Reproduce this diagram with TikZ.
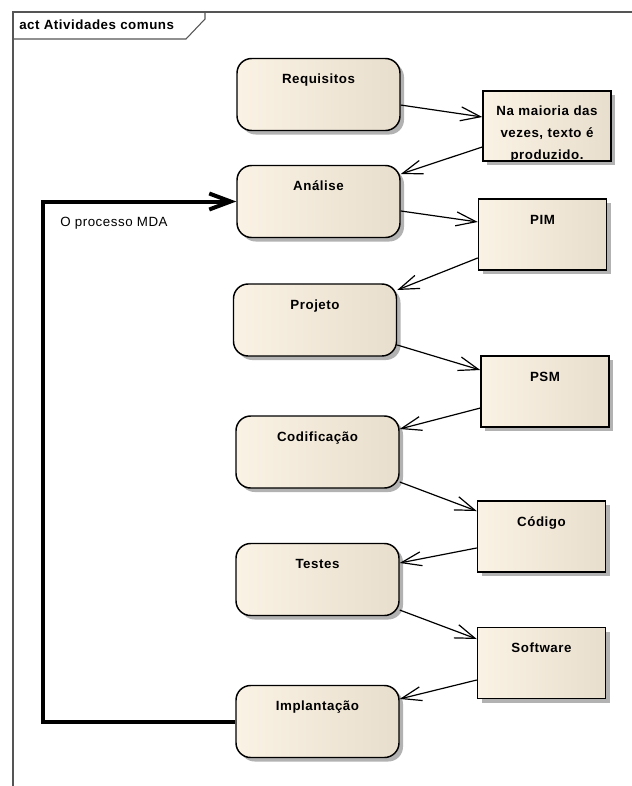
\documentclass[tikz,border=0pt]{standalone}
\usepackage{fontspec}
\setmainfont{Liberation Sans}[LetterSpace=4]
\usetikzlibrary{arrows.meta,shadows}

\definecolor{fillL}{RGB}{250,242,228}
\definecolor{fillR}{RGB}{232,222,205}
\definecolor{framegray}{RGB}{85,85,85}
\definecolor{shadowgray}{RGB}{178,178,178}

\begin{document}
\begin{tikzpicture}[x=0.75pt,y=-0.75pt,
  box/.style={draw=black, line width=1.1pt, inner sep=0pt,
    left color=fillL, right color=fillR,
    font=\bfseries\fontsize{10}{16.5}\selectfont,
    drop shadow={shadow xshift=3pt, shadow yshift=-3pt, fill=shadowgray, opacity=1}},
  activity/.style={box, rounded corners=11pt, minimum width=122.25pt,
    text height=19pt, text depth=35pt},
  artifact/.style={box, minimum width=96pt, text height=19pt, text depth=34.25pt},
  flow/.style={draw=black, line width=0.9pt,
    -{Straight Barb[length=15pt,width=10.5pt]}},
  mdaflow/.style={draw=black, line width=3pt, line join=miter,
    -{Straight Barb[length=16pt,width=12pt]}},
  frameline/.style={draw=framegray, line width=0.8pt},
  plain/.style={font=\fontsize{10}{12}\selectfont, inner sep=0pt},
  titletext/.style={font=\bfseries\fontsize{10}{12}\selectfont, inner sep=0pt}]

\useasboundingbox (0,0) rectangle (632,786);

% diagram frame and its name tab
\draw[frameline] (13,786) -- (13,12) -- (632,12);
\draw[frameline] (13,39) -- (186,39) -- (205,19) -- (205,12);
\node[titletext, anchor=base west] (title) at (19,29.5) {act Atividades comuns};

% activities
\node[activity] (req)  at (318.5,94.5)  {Requisitos};
\node[activity] (ana)  at (318.5,201.5) {Análise};
\node[activity] (proj) at (315,320)     {Projeto};
\node[activity] (cod)  at (317.5,452)   {Codificação};
\node[activity] (tes)  at (317.5,579.5) {Testes};
\node[activity] (imp)  at (317.5,721.5) {Implantação};

% artifacts
\node[artifact, text width=96pt, align=center, text height=18.5pt, text depth=34pt]
  (note) at (547,126) {Na maioria das\\vezes, texto é\\produzido.};
\node[artifact] (pim)    at (542.5,234.5) {PIM};
\node[artifact] (psm)    at (545,391.5)   {PSM};
\node[artifact] (codigo) at (541.5,536.5) {Código};
\node[artifact] (soft)   at (541.5,663)   {Software};

% object flows
\draw[flow] ([yshift=-7.9pt]req.east)    -- ([yshift=6.75pt]note.west);
\draw[flow] ([yshift=-15.75pt]note.west) -- ([yshift=20.6pt]ana.east);
\draw[flow] ([yshift=-7.1pt]ana.east)    -- ([yshift=9.4pt]pim.west);
\draw[flow] ([yshift=-17.6pt]pim.west)   -- ([yshift=22.5pt]proj.east);
\draw[flow] ([yshift=-18.75pt]proj.east) -- ([yshift=16.1pt]psm.west);
\draw[flow] ([yshift=-12.4pt]psm.west)   -- ([yshift=17.25pt]cod.east);
\draw[flow] ([yshift=-22.5pt]cod.east)   -- ([yshift=19.1pt]codigo.west);
\draw[flow] ([yshift=-8.6pt]codigo.west) -- ([yshift=12.4pt]tes.east);
\draw[flow] ([yshift=-22.9pt]tes.east)   -- ([yshift=18pt]soft.west);
\draw[flow] ([yshift=-12.75pt]soft.west) -- ([yshift=16.9pt]imp.east);

% iteration of the MDA process
\coordinate (turn) at (43,0);
\draw[mdaflow] (imp.west) -- (imp.west -| turn) |- (ana.west);
\node[plain, anchor=base west] (mdalbl) at (60,226) {O processo MDA};

\end{tikzpicture}
\end{document}
